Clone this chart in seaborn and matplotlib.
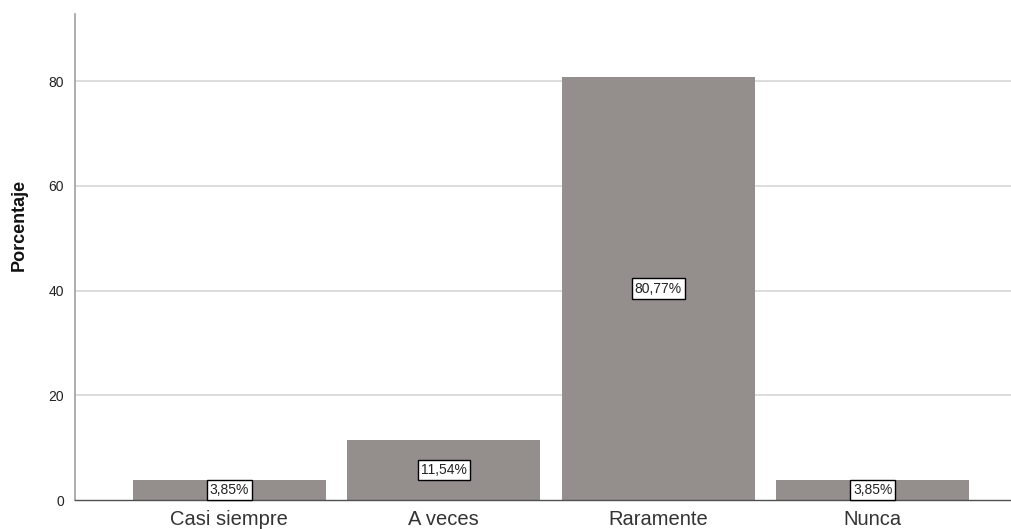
import matplotlib
matplotlib.use("Agg")
import matplotlib.pyplot as plt
import seaborn as sns

# data
categorias = ["Casi siempre", "A veces", "Raramente", "Nunca"]
porcentajes = [3.85, 11.54, 80.77, 3.85]
y_ticks = [0, 20, 40, 60, 80]

BAR_COLOR = "#948f8d"

sns.set_theme(style="white")
plt.rcParams["font.family"] = ["Liberation Sans", "DejaVu Sans"]

fig = plt.figure(figsize=(10.12, 5.29), dpi=100)
ax = fig.add_axes([75 / 1012, 29 / 529, 1 - 75 / 1012, 486 / 529])

sns.barplot(
    x=categorias,
    y=porcentajes,
    color=BAR_COLOR,
    saturation=1,
    width=0.9,
    linewidth=0,
    ax=ax,
    zorder=2,
)

ax.set_xlim(-0.72, 3.65)
ax.set_ylim(0, 92.8)
ax.set_yticks(y_ticks)

# light horizontal reference lines, none at zero
for y in y_ticks[1:]:
    ax.axhline(y, color="#dadada", linewidth=1.3, zorder=1)

for i, v in enumerate(porcentajes):
    ax.text(
        i,
        v / 2,
        f"{v:.2f}%".replace(".", ","),
        ha="center",
        va="center",
        fontsize=10,
        color="#222222",
        zorder=4,
        bbox=dict(boxstyle="square,pad=0.22", fc="white", ec="black", lw=1),
    )

for s in ["top", "right"]:
    ax.spines[s].set_visible(False)
ax.spines["left"].set_color("#a0a0a0")
ax.spines["left"].set_linewidth(1.2)
ax.spines["bottom"].set_color("#505050")
ax.spines["bottom"].set_linewidth(1.0)

ax.tick_params(axis="y", length=0, pad=8, labelsize=10, labelcolor="#222222")
ax.tick_params(axis="x", length=0, pad=7, labelsize=14.5, labelcolor="#333333")

ax.set_xlabel("")
ax.set_ylabel("Porcentaje", fontsize=13, fontweight="bold", color="#111111")
ax.yaxis.set_label_coords(-0.05, 0.565)

fig.savefig("out.png", dpi=100)
